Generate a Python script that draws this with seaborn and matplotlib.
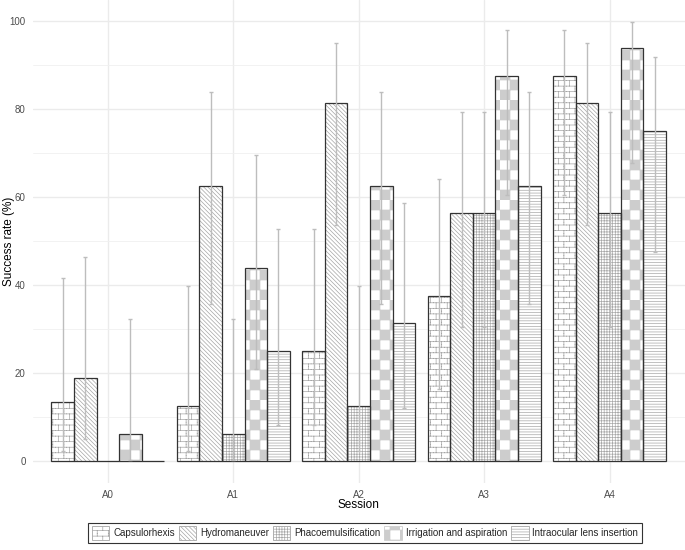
import numpy as np
import pandas as pd
import matplotlib
matplotlib.use("Agg")
import matplotlib.pyplot as plt
import matplotlib.hatch as mhatch
from matplotlib.path import Path
from matplotlib.patches import Patch, Rectangle
import seaborn as sns

# === Data ===
sessions = ["A0", "A1", "A2", "A3", "A4"]
steps = ["Capsulorhexis", "Hydromaneuver", "Phacoemulsification",
         "Irrigation and aspiration", "Intraocular lens insertion"]

caps_rate = [13.3, 12.5, 25.0, 37.5, 87.5]
hydro_rate = [18.75, 62.5, 81.25, 56.25, 81.25]
phaco_rate = [0.0, 6.25, 12.5, 56.25, 56.25]
irrig_rate = [6.25, 43.75, 62.5, 87.5, 93.75]
iol_rate = [0.0, 25.0, 31.25, 62.5, 75.0]

caps_lo = [2.3, 2.2, 8.3, 16.4, 60.4]
caps_hi = [41.6, 39.8, 52.6, 64.1, 97.8]
hydro_lo = [5.0, 35.6, 53.7, 30.5, 53.7]
hydro_hi = [46.4, 83.8, 95.0, 79.2, 95.0]
phaco_lo = [np.nan, 0.3, 2.2, 30.5, 30.5]
phaco_hi = [np.nan, 32.3, 39.8, 79.2, 79.2]
irrig_lo = [0.3, 20.8, 35.6, 60.4, 67.7]
irrig_hi = [32.3, 69.4, 83.8, 97.8, 99.7]
iol_lo = [np.nan, 8.3, 12.1, 35.6, 47.4]
iol_hi = [np.nan, 52.6, 58.6, 83.8, 91.7]

rates = [caps_rate, hydro_rate, phaco_rate, irrig_rate, iol_rate]
lows = [caps_lo, hydro_lo, phaco_lo, irrig_lo, iol_lo]
highs = [caps_hi, hydro_hi, phaco_hi, irrig_hi, iol_hi]


# === Extra hatch patterns: 'o' -> bricks, 'O' -> checkerboard ===
class BrickHatch(mhatch.HatchPatternBase):
    def __init__(self, hatch, density):
        self.n = hatch.count('o') * 9
        self.num_vertices = self.n * self.n * 10

    def set_vertices_and_codes(self, vertices, codes):
        s = 1.0 / self.n
        k = 0
        for i in range(self.n):
            for j in range(self.n):
                x0, y0 = i * s, j * s
                segs = [((x0, y0 + 0.25 * s), (x0 + s, y0 + 0.25 * s)),
                        ((x0, y0 + 0.75 * s), (x0 + s, y0 + 0.75 * s)),
                        ((x0 + 0.25 * s, y0 + 0.25 * s), (x0 + 0.25 * s, y0 + 0.75 * s)),
                        ((x0 + 0.75 * s, y0 + 0.75 * s), (x0 + 0.75 * s, y0 + s)),
                        ((x0 + 0.75 * s, y0), (x0 + 0.75 * s, y0 + 0.25 * s))]
                for a, b in segs:
                    vertices[k] = a
                    vertices[k + 1] = b
                    codes[k] = Path.MOVETO
                    codes[k + 1] = Path.LINETO
                    k += 2


class CheckerHatch(mhatch.HatchPatternBase):
    def __init__(self, hatch, density):
        self.n = hatch.count('O') * 5
        self.num_vertices = self.n * self.n * 10

    def set_vertices_and_codes(self, vertices, codes):
        s = 1.0 / self.n
        h = s / 2
        k = 0
        for i in range(self.n):
            for j in range(self.n):
                for x, y in [(i * s, j * s), (i * s + h, j * s + h)]:
                    vertices[k:k + 5] = [(x, y), (x + h, y), (x + h, y + h), (x, y + h), (x, y)]
                    codes[k:k + 5] = [Path.MOVETO, Path.LINETO, Path.LINETO,
                                      Path.LINETO, Path.CLOSEPOLY]
                    k += 5


mhatch._hatch_types[:] = [c for c in mhatch._hatch_types
                          if c not in (mhatch.SmallCircles, mhatch.LargeCircles)]
mhatch._hatch_types += [BrickHatch, CheckerHatch]

hatches = ['o', '\\' * 8, '++++++', 'O', '------']
hatch_colors = ['#a5a5a5', '#a5a5a5', '#a8a8a8', '#cdcdcd', '#a8a8a8']

# === Long-form table for seaborn ===
df = pd.DataFrame({
    "Session": np.tile(sessions, len(steps)),
    "Step": np.repeat(steps, len(sessions)),
    "Rate": np.concatenate(rates),
})

sns.set_style("whitegrid")
plt.rcParams['font.family'] = ['Liberation Sans', 'DejaVu Sans']
plt.rcParams['hatch.linewidth'] = 0.5

fig = plt.figure(figsize=(6.85, 5.5), dpi=100)
ax = fig.add_axes([0.0477, 0.1218, 0.952, 0.878])

sns.barplot(data=df, x="Session", y="Rate", hue="Step", order=sessions,
            hue_order=steps, palette=['white'] * len(steps), width=0.9,
            errorbar=None, edgecolor='#333333', linewidth=0.9, legend=False,
            ax=ax)

# patterns underneath transparent outlines, then grey error bars on top
for cont, hatch, hcol, vals, lo, hi in zip(ax.containers, hatches, hatch_colors,
                                           rates, lows, highs):
    centers = []
    for bar in cont:
        bar.set_facecolor('none')
        bar.set_zorder(2)
        ax.add_patch(Rectangle((bar.get_x(), bar.get_y()), bar.get_width(),
                               bar.get_height(), facecolor='white', edgecolor=hcol,
                               linewidth=0, hatch=hatch, zorder=1.5))
        centers.append(bar.get_x() + bar.get_width() / 2)
    vals = np.array(vals)
    yerr = [vals - np.array(lo), np.array(hi) - vals]
    ax.errorbar(centers, vals, yerr=yerr, fmt='none', ecolor='#bdbdbd',
                elinewidth=1.0, capsize=1.6, capthick=1.0, zorder=3)

ax.set_xlim(-0.6, 4.6)
ax.set_ylim(-4.985, 104.685)
ax.set_yticks([0, 20, 40, 60, 80, 100])
ax.set_yticks([10, 30, 50, 70, 90], minor=True)
ax.grid(True, which='major', color='#ebebeb', linewidth=1.0)
ax.grid(True, which='minor', axis='y', color='#f0f0f0', linewidth=0.6)
ax.set_axisbelow(True)
for s in ax.spines.values():
    s.set_visible(False)
ax.tick_params(which='both', length=0, labelsize=7, labelcolor='#4d4d4d', pad=5)

ax.set_xlabel("Session", fontsize=8.5, color='black')
ax.set_ylabel("Success rate (%)", fontsize=8.5, color='black')
ax.xaxis.set_label_coords(0.5, -0.034)
ax.yaxis.set_label_coords(-0.027, 0.5)

handles = [Patch(facecolor='white', edgecolor=c, hatch=h, linewidth=0.6)
           for h, c in zip(hatches, hatch_colors)]
leg = fig.legend(handles, steps, loc='center', bbox_to_anchor=(365 / 685, 1 - 533 / 550),
                 ncol=5, frameon=True, fancybox=False, edgecolor='#333333',
                 framealpha=1, fontsize=7, handlelength=1.8, handleheight=1.8,
                 columnspacing=0.4, handletextpad=0.4, borderpad=0.35)
leg.get_frame().set_linewidth(0.8)

fig.savefig("out.png", dpi=100)
